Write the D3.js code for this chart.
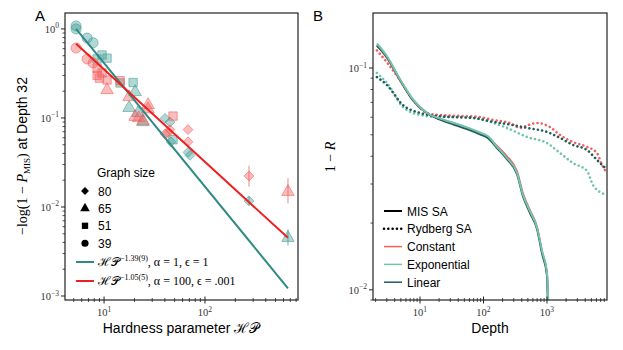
<!DOCTYPE html>
<html>
<head>
<meta charset="utf-8">
<script src="https://cdn.jsdelivr.net/npm/d3@7"></script>
<style>
  body { margin: 0; background: #fff; }
  svg { display: block; }
  text { font-family: 'Liberation Sans', Arial, sans-serif; }
  .tick-label { font-family: 'Liberation Serif', 'DejaVu Serif', serif; font-size: 10.5px; fill: #333; }
  .math { font-family: 'Liberation Serif', 'DejaVu Serif', serif; }
</style>
</head>
<body>
<div id="chart"></div>
<script>
// ---- panel A data: [hardness parameter, -log(1-P_MIS)] ----
const tealCircles = [[5.28, 1.08], [5.28, 1.0], [6.79, 0.79], [7.78, 0.70]];
const tealSquares = [[8.53, 0.46], [9.55, 0.51], [10.7, 0.47], [14.4, 0.247], [19.4, 0.25], [48.2, 0.057]];
const tealTriangles = [[20.3, 0.196], [17.7, 0.13], [21.7, 0.114], [24.3, 0.09], [664, 0.0045]];
const tealDiamonds = [[40.2, 0.099], [45, 0.09], [46, 0.054], [67.9, 0.041], [71, 0.038], [273, 0.0117]];

const redCircles = [[5.28, 0.61], [6.79, 0.46], [7.78, 0.415]];
const redSquares = [[8.53, 0.36], [8.53, 0.30], [9.55, 0.32], [9.0, 0.28], [10.7, 0.267], [14.4, 0.262], [48.2, 0.105]];
const redTriangles = [[10.7, 0.206], [17.7, 0.172], [27.3, 0.14], [27.3, 0.125], [20.3, 0.103], [22, 0.10], [24.3, 0.093], [664, 0.0148]];
const redDiamonds = [[45, 0.074], [40.2, 0.066], [43, 0.068], [67.9, 0.074], [67.9, 0.054], [273, 0.0223]];

// error bars [x, low, high]
const tealErrors = [[664, 0.0037, 0.0056], [273, 0.0105, 0.013]];
const redErrors = [[273, 0.017, 0.029], [664, 0.011, 0.021]];

// fitted power laws, endpoints
const tealFit = [[5.28, 1.0], [664, 0.00122]];
const redFit = [[5.28, 0.68], [664, 0.0045]];

const graphSizes = ['80', '65', '51', '39'];

// ---- panel B data: [depth, 1 - R] ----
const misConstant = [[2.1, 0.127], [3.02, 0.111], [4.84, 0.088], [7.76, 0.0718], [12.9, 0.0627], [20.7, 0.0589], [33.1, 0.0565],
  [55, 0.0537], [88, 0.0509], [118, 0.0489], [163, 0.0445], [234, 0.0400], [337, 0.0342], [419, 0.0272], [540, 0.0228],
  [696, 0.0192], [835, 0.0149], [1000, 0.0118], [1040, 0.0090]];
const misExponential = [[2.1, 0.129], [3.02, 0.113], [4.84, 0.089], [7.76, 0.0722], [12.9, 0.0627], [20.7, 0.0591], [33.1, 0.0567],
  [55, 0.0540], [88, 0.0512], [118, 0.0492], [163, 0.0441], [234, 0.0393], [337, 0.0337], [419, 0.0268], [540, 0.0226],
  [696, 0.0191], [835, 0.0150], [1000, 0.0119], [1045, 0.0090]];
const misLinear = [[2.1, 0.126], [3.02, 0.112], [4.84, 0.0885], [7.76, 0.0715], [12.9, 0.0625], [20.7, 0.0585], [33.1, 0.0558],
  [55, 0.0530], [88, 0.0502], [118, 0.0483], [163, 0.0436], [234, 0.0388], [337, 0.0332], [419, 0.0264], [540, 0.0222],
  [696, 0.0188], [835, 0.0146], [1000, 0.0116], [1030, 0.0090]];

const rydConstant = [[2.1, 0.120], [3.02, 0.106], [4.84, 0.0883], [7.76, 0.0718], [12.9, 0.0627], [20.7, 0.0614], [42.7, 0.0608],
  [88, 0.0601], [141, 0.0583], [261, 0.0565], [376, 0.0537], [502, 0.0553], [696, 0.0565], [1114, 0.0542], [1603, 0.0499],
  [2567, 0.0464], [4266, 0.0441], [6124, 0.0414], [7346, 0.0366], [8491, 0.0340]];
const rydExponential = [[2.1, 0.095], [3.02, 0.0856], [5.4, 0.0667], [10, 0.0614], [20.7, 0.0601], [42.7, 0.0601], [113, 0.0577],
  [234, 0.0537], [484, 0.0489], [1000, 0.0459], [1603, 0.0414], [2567, 0.0373], [4266, 0.0344], [5297, 0.0297], [8491, 0.0268]];
const rydLinear = [[2.1, 0.091], [3.02, 0.0838], [5.4, 0.0681], [10, 0.0627], [18.5, 0.0608], [33.1, 0.0601], [68.4, 0.0596],
  [141, 0.0572], [292, 0.0553], [484, 0.0537], [1000, 0.0515], [1603, 0.0484], [2567, 0.045], [4266, 0.0427], [6124, 0.0385],
  [8180, 0.0355]];

const legendB = ['MIS SA', 'Rydberg SA', 'Constant', 'Exponential', 'Linear'];

const width = 623;
const height = 350;
const teal = '#3e9b93';
const tealLine = '#2f8a84';
const red = '#f25a5a';
const redLine = '#ee1f1f';
const cConstant = '#f26060';
const cExponential = '#72c4ae';
const cLinear = '#1f5c5c';
const dots = '0.01,4.3';

const svg = d3.select('#chart').append('svg').attr('width', width).attr('height', height);

// scales
const xA = d3.scaleLog().domain([4.1, 835]).range([65, 298]);
const yA = d3.scaleLog().domain([0.000902, 1.51]).range([300, 13]);
const xB = d3.scaleLog().domain([1.82, 8810]).range([373, 607]);
const yB = d3.scaleLog().domain([0.0090, 0.177]).range([300, 13]);

function minorTicks(scale) {
  const [a, b] = scale.domain();
  const out = [];
  for (let e = Math.floor(Math.log10(a)); e <= Math.ceil(Math.log10(b)); e++) {
    for (let m = 1; m < 10; m++) {
      const v = m * Math.pow(10, e);
      if (v >= a && v <= b) out.push({ v, major: m === 1, e });
    }
  }
  return out;
}

function powLabel(g, x, y, exp, anchor) {
  const t = g.append('text').attr('class', 'tick-label').attr('x', x).attr('y', y).attr('text-anchor', anchor);
  t.append('tspan').text('10');
  t.append('tspan').attr('dy', -4.5).attr('font-size', 7.5).text(exp < 0 ? '\u2212' + Math.abs(exp) : String(exp));
}

function drawAxes(x, y) {
  const g = svg.append('g');
  const [x0, x1] = x.range();
  const [y0, y1] = y.range();
  // x ticks (in-out)
  minorTicks(x).forEach(t => {
    const px = x(t.v);
    const len = t.major ? 3.5 : 2;
    g.append('line').attr('x1', px).attr('x2', px).attr('y1', y0 - len).attr('y2', y0 + len)
      .attr('stroke', '#222').attr('stroke-width', t.major ? 1 : 0.8);
    if (t.major) powLabel(g, px, y0 + 16, t.e, 'middle');
  });
  // y ticks (outward)
  minorTicks(y).forEach(t => {
    const py = y(t.v);
    const len = t.major ? 4 : 2.5;
    g.append('line').attr('x1', x0 - len).attr('x2', x0).attr('y1', py).attr('y2', py)
      .attr('stroke', '#222').attr('stroke-width', t.major ? 1 : 0.8);
    if (t.major) powLabel(g, x0 - 6, py + 4, t.e, 'end');
  });
  g.append('rect').attr('x', x0).attr('y', y1).attr('width', x1 - x0).attr('height', y0 - y1)
    .attr('fill', 'none').attr('stroke', '#222').attr('stroke-width', 1.2);
}

// ---- panel A ----
svg.append('clipPath').attr('id', 'clipA').append('rect')
  .attr('x', 65).attr('y', 13).attr('width', 233).attr('height', 287);

const plotA = svg.append('g').attr('clip-path', 'url(#clipA)');

// matplotlib-like diamond: a square turned by 45 degrees
const diamondType = {
  draw(ctx, size) {
    const r = Math.sqrt(size) / 2 * 1.25;
    ctx.moveTo(0, -r); ctx.lineTo(r, 0); ctx.lineTo(0, r); ctx.lineTo(-r, 0); ctx.closePath();
  },
};
const shapeTypes = {
  circle: d3.symbolCircle, square: d3.symbolSquare, triangle: d3.symbolTriangle, diamond: diamondType,
};
const shapeSizes = { circle: 80, square: 70, triangle: 68, diamond: 62 };

function drawErrors(arr, color) {
  plotA.append('g').selectAll('line').data(arr).enter().append('line')
    .attr('x1', d => xA(d[0])).attr('x2', d => xA(d[0]))
    .attr('y1', d => yA(d[1])).attr('y2', d => yA(d[2]))
    .attr('stroke', color).attr('stroke-opacity', 0.5).attr('stroke-width', 1.5);
}

function drawMarkers(arr, shape, color) {
  plotA.append('g').selectAll('path').data(arr).enter().append('path')
    .attr('d', d3.symbol().type(shapeTypes[shape]).size(shapeSizes[shape]))
    .attr('transform', d => `translate(${xA(d[0])},${yA(d[1])})`)
    .attr('fill', color).attr('fill-opacity', 0.4)
    .attr('stroke', color).attr('stroke-opacity', 0.55).attr('stroke-width', 1);
}

drawErrors(tealErrors, teal);
drawErrors(redErrors, red);
drawMarkers(tealCircles, 'circle', teal);
drawMarkers(tealSquares, 'square', teal);
drawMarkers(tealTriangles, 'triangle', teal);
drawMarkers(tealDiamonds, 'diamond', teal);
drawMarkers(redCircles, 'circle', red);
drawMarkers(redSquares, 'square', red);
drawMarkers(redTriangles, 'triangle', red);
drawMarkers(redDiamonds, 'diamond', red);

const lineA = d3.line().x(d => xA(d[0])).y(d => yA(d[1]));
plotA.append('path').attr('d', lineA(tealFit)).attr('fill', 'none').attr('stroke', tealLine).attr('stroke-width', 2);
plotA.append('path').attr('d', lineA(redFit)).attr('fill', 'none').attr('stroke', redLine).attr('stroke-width', 2);

drawAxes(xA, yA);

// legend A
const legA = svg.append('g');
legA.append('text').attr('x', 97).attr('y', 177).attr('font-size', 12).text('Graph size');
const legShapes = ['diamond', 'triangle', 'square', 'circle'];
graphSizes.forEach((s, i) => {
  const yy = 191 + i * 17.4;
  legA.append('path').attr('d', d3.symbol().type(shapeTypes[legShapes[i]]).size(40))
    .attr('transform', `translate(85,${yy})`).attr('fill', '#000');
  legA.append('text').attr('x', 98).attr('y', yy + 4.5).attr('font-size', 12).text(s);
});

function fitLabel(yy, color, exp, rest) {
  legA.append('line').attr('x1', 76).attr('x2', 94).attr('y1', yy).attr('y2', yy)
    .attr('stroke', color).attr('stroke-width', 2);
  const t = legA.append('text').attr('class', 'math').attr('x', 98).attr('y', yy + 4).attr('font-size', 12);
  t.append('tspan').text('\u210B\uD835\uDCAB');
  t.append('tspan').attr('dy', -5).attr('font-size', 8).text(exp);
  t.append('tspan').attr('dy', 5).text(rest);
}
fitLabel(262, tealLine, '\u22121.39(9)', ', \u03B1 = 1, \u03F5 = 1');
fitLabel(281, redLine, '\u22121.05(5)', ', \u03B1 = 100, \u03F5 = .001');

// axis labels A
svg.append('text').attr('x', 40).attr('y', 21).attr('font-size', 15).attr('text-anchor', 'middle').text('A');
svg.append('text').attr('x', 181).attr('y', 333).attr('font-size', 14).attr('text-anchor', 'middle')
  .call(t => {
    t.append('tspan').text('Hardness parameter ');
    t.append('tspan').attr('class', 'math').text('\u210B\uD835\uDCAB');
  });

const yLabA = svg.append('text').attr('transform', 'translate(27,156) rotate(-90)')
  .attr('font-size', 14).attr('text-anchor', 'middle');
yLabA.append('tspan').attr('class', 'math').text('\u2212log(1 \u2212 ');
yLabA.append('tspan').attr('class', 'math').attr('font-style', 'italic').text('P');
yLabA.append('tspan').attr('class', 'math').attr('font-size', 9).attr('dy', 3).text('MIS');
yLabA.append('tspan').attr('class', 'math').attr('dy', -3).text(')');
yLabA.append('tspan').text(' at Depth 32');

// ---- panel B ----
svg.append('clipPath').attr('id', 'clipB').append('rect')
  .attr('x', 373).attr('y', 13).attr('width', 234).attr('height', 287);
const plotB = svg.append('g').attr('clip-path', 'url(#clipB)');
const lineB = d3.line().curve(d3.curveMonotoneX).x(d => xB(d[0])).y(d => yB(d[1]));

function drawB(arr, color, dotted) {
  plotB.append('path').attr('d', lineB(arr)).attr('fill', 'none').attr('stroke', color)
    .attr('stroke-width', dotted ? 2.6 : 2)
    .attr('stroke-linecap', dotted ? 'round' : 'butt')
    .attr('stroke-dasharray', dotted ? dots : null);
}
drawB(rydConstant, cConstant, true);
drawB(rydExponential, cExponential, true);
drawB(rydLinear, cLinear, true);
drawB(misConstant, cConstant, false);
drawB(misLinear, cLinear, false);
drawB(misExponential, cExponential, false);

drawAxes(xB, yB);

// legend B
const legB = svg.append('g');
const legBStyles = [['#000', false], ['#000', true], [cConstant, false], [cExponential, false], [cLinear, false]];
legendB.forEach((s, i) => {
  const yy = 211 + i * 17.8;
  legB.append('line').attr('x1', 384).attr('x2', 402).attr('y1', yy).attr('y2', yy)
    .attr('stroke', legBStyles[i][0]).attr('stroke-width', legBStyles[i][1] ? 2.6 : (i < 2 ? 2 : 1.5))
    .attr('stroke-linecap', legBStyles[i][1] ? 'round' : 'butt')
    .attr('stroke-dasharray', legBStyles[i][1] ? dots : null);
  legB.append('text').attr('x', 407).attr('y', yy + 4.5).attr('font-size', 12).text(s);
});

svg.append('text').attr('x', 318).attr('y', 21).attr('font-size', 15).attr('text-anchor', 'middle').text('B');
svg.append('text').attr('x', 490).attr('y', 333).attr('font-size', 14).attr('text-anchor', 'middle').text('Depth');
const yLabB = svg.append('text').attr('class', 'math').attr('transform', 'translate(335,157) rotate(-90)')
  .attr('font-size', 14).attr('text-anchor', 'middle');
yLabB.append('tspan').text('1 \u2212 ');
yLabB.append('tspan').attr('font-style', 'italic').text('R');
</script>
</body>
</html>
